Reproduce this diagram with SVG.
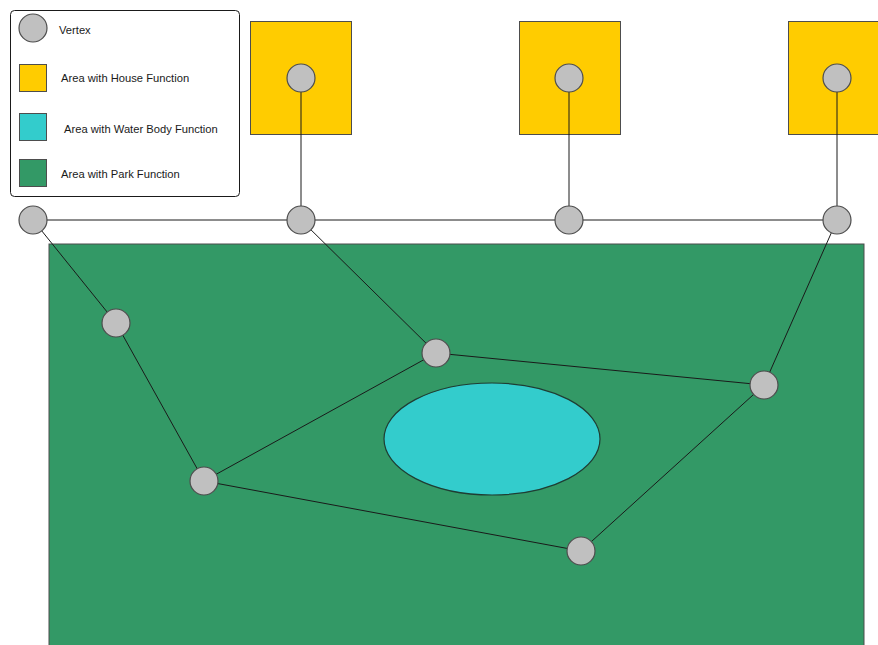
<svg xmlns="http://www.w3.org/2000/svg" width="878" height="645" viewBox="0 0 878 645">
  <style>
    .house { fill: #FFCC00; stroke: #4d4d4d; stroke-width: 1; }
    .water { fill: #33CCCC; stroke: #1f3d33; stroke-width: 1.2; }
    .park { fill: #339966; stroke: #4d4d4d; stroke-width: 1; }
    .vertex { fill: #C0C0C0; stroke: #4d4d4d; stroke-width: 1.2; }
    .edge { stroke: #1a1a1a; stroke-width: 1; fill: none; }
    .label { font-family: "Liberation Sans", Arial, sans-serif; font-size: 11.2px; fill: #1a1a1a; }
  </style>
  <rect width="878" height="645" fill="#ffffff"/>

  <!-- areas -->
  <g id="park"><rect class="park" x="49" y="244" width="815" height="410"/></g>
  <g id="pond"><ellipse class="water" cx="492" cy="439" rx="108" ry="56"/></g>
  <g id="house1"><rect class="house" x="250.5" y="21.5" width="101" height="113"/></g>
  <g id="house2"><rect class="house" x="519.5" y="21.5" width="101" height="113"/></g>
  <g id="house3"><rect class="house" x="788.5" y="21.5" width="101" height="113"/></g>

  <!-- connectors -->
  <g id="edges">
    <line class="edge" x1="33" y1="220" x2="837" y2="220"/>
    <line class="edge" x1="301" y1="78" x2="301" y2="220"/>
    <line class="edge" x1="569" y1="78" x2="569" y2="220"/>
    <line class="edge" x1="837" y1="78" x2="837" y2="220"/>
    <line class="edge" x1="33" y1="220" x2="116" y2="323"/>
    <line class="edge" x1="116" y1="323" x2="204" y2="481"/>
    <line class="edge" x1="301" y1="220" x2="436" y2="353"/>
    <line class="edge" x1="436" y1="353" x2="764" y2="385"/>
    <line class="edge" x1="837" y1="220" x2="764" y2="385"/>
    <line class="edge" x1="436" y1="353" x2="204" y2="481"/>
    <line class="edge" x1="204" y1="481" x2="581" y2="551"/>
    <line class="edge" x1="581" y1="551" x2="764" y2="385"/>
  </g>

  <!-- vertices -->
  <g id="vA"><circle class="vertex" cx="33" cy="220" r="14"/></g>
  <g id="vB"><circle class="vertex" cx="301" cy="220" r="14"/></g>
  <g id="vC"><circle class="vertex" cx="569" cy="220" r="14"/></g>
  <g id="vD"><circle class="vertex" cx="837" cy="220" r="14"/></g>
  <g id="vH1"><circle class="vertex" cx="301" cy="78" r="14"/></g>
  <g id="vH2"><circle class="vertex" cx="569" cy="78" r="14"/></g>
  <g id="vH3"><circle class="vertex" cx="837" cy="78" r="14"/></g>
  <g id="vE"><circle class="vertex" cx="116" cy="323" r="14"/></g>
  <g id="vF"><circle class="vertex" cx="436" cy="353" r="14"/></g>
  <g id="vG"><circle class="vertex" cx="764" cy="385" r="14"/></g>
  <g id="vI"><circle class="vertex" cx="204" cy="481" r="14"/></g>
  <g id="vJ"><circle class="vertex" cx="581" cy="551" r="14"/></g>

  <!-- legend -->
  <g id="legend">
    <rect x="10.5" y="10.5" width="229" height="186" rx="4" fill="#ffffff" stroke="#1a1a1a" stroke-width="1"/>
    <circle class="vertex" cx="33" cy="28" r="14"/>
    <text class="label" x="59" y="34">Vertex</text>
    <rect class="house" x="19.5" y="64.5" width="27" height="27"/>
    <text class="label" x="61" y="82">Area with House Function</text>
    <rect x="19.5" y="113.5" width="27" height="27" fill="#33CCCC" stroke="#4d4d4d"/>
    <text class="label" x="64" y="133">Area with Water Body Function</text>
    <rect class="park" x="19.5" y="159.5" width="27" height="27"/>
    <text class="label" x="61" y="178">Area with Park Function</text>
  </g>
</svg>
